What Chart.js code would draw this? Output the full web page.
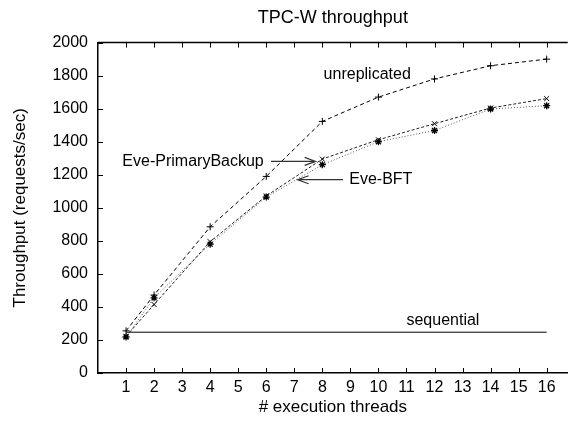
<!DOCTYPE html>
<html>
<head>
<meta charset="utf-8">
<script src="https://cdn.jsdelivr.net/npm/chart.js@4/dist/chart.umd.min.js"></script>
<style>
  html, body { margin: 0; padding: 0; background: #fff; }
</style>
</head>
<body>
<canvas id="tpcwChart" width="573" height="423"></canvas>
<script>
// TPC-W throughput data
const threads = [1, 2, 4, 6, 8, 10, 12, 14, 16];
const unreplicated = [255, 472, 885, 1190, 1523, 1670, 1780, 1860, 1900];
const primaryBackup = [222, 415, 795, 1072, 1295, 1412, 1509, 1604, 1661];
const eveBft = [218, 455, 780, 1065, 1261, 1400, 1468, 1598, 1618];
const sequentialX = [1, 16];
const sequentialY = [247, 247];
const xTicks = [1, 2, 3, 4, 5, 6, 7, 8, 9, 10, 11, 12, 13, 14, 15, 16];
const yTicks = [0, 200, 400, 600, 800, 1000, 1200, 1400, 1600, 1800, 2000];

const fontFamily = '"Liberation Sans", Arial, Helvetica, sans-serif';

function toPoints(xs, ys) {
  return xs.map((x, i) => ({ x: x, y: ys[i] }));
}

// gnuplot-like frame: top border, inward ticks, labels and arrows
const framePlugin = {
  id: 'gnuplotFrame',
  afterDatasetsDraw(chart) {
    const ctx = chart.ctx;
    const area = chart.chartArea;
    const xs = chart.scales.x;
    const ys = chart.scales.y;

    ctx.save();
    ctx.strokeStyle = '#000';
    ctx.lineWidth = 1.5;
    ctx.beginPath();
    ctx.moveTo(area.left, area.top);
    ctx.lineTo(area.right, area.top);
    ctx.stroke();

    ctx.lineWidth = 1;
    ctx.beginPath();
    xTicks.forEach((v) => {
      const px = Math.round(xs.getPixelForValue(v)) + 0.5;
      ctx.moveTo(px, area.bottom);
      ctx.lineTo(px, area.bottom - 5);
      ctx.moveTo(px, area.top);
      ctx.lineTo(px, area.top + 5);
    });
    yTicks.forEach((v) => {
      const py = Math.round(ys.getPixelForValue(v)) + 0.5;
      ctx.moveTo(area.left, py);
      ctx.lineTo(area.left + 5, py);
    });
    ctx.stroke();

    // text labels
    const notes = [
      { text: 'unreplicated', x: 9.6, y: 1806, align: 'center' },
      { text: 'sequential', x: 12.3, y: 320, align: 'center' },
      { text: 'Eve-PrimaryBackup', x: 3.39, y: 1281, align: 'center' },
      { text: 'Eve-BFT', x: 8.96, y: 1170, align: 'left' },
    ];
    ctx.fillStyle = '#000';
    ctx.font = '16px ' + fontFamily;
    ctx.textBaseline = 'middle';
    notes.forEach((n) => {
      ctx.textAlign = n.align;
      ctx.fillText(n.text, xs.getPixelForValue(n.x), ys.getPixelForValue(n.y));
    });

    // arrows
    const arrows = [
      { from: [6.17, 1281], to: [7.76, 1281] },
      { from: [8.74, 1170], to: [7.12, 1170] },
    ];
    ctx.strokeStyle = '#333';
    ctx.lineWidth = 1.2;
    arrows.forEach((a) => {
      const x1 = xs.getPixelForValue(a.from[0]);
      const y1 = ys.getPixelForValue(a.from[1]);
      const x2 = xs.getPixelForValue(a.to[0]);
      const y2 = ys.getPixelForValue(a.to[1]);
      const dir = x2 > x1 ? -1 : 1;
      ctx.beginPath();
      ctx.moveTo(x1, y1);
      ctx.lineTo(x2, y2);
      ctx.moveTo(x2 + dir * 11, y2 - 4);
      ctx.lineTo(x2, y2);
      ctx.lineTo(x2 + dir * 11, y2 + 4);
      ctx.stroke();
    });
    ctx.restore();
  },
};

new Chart(document.getElementById('tpcwChart'), {
  type: 'line',
  data: {
    datasets: [
      {
        label: 'unreplicated',
        data: toPoints(threads, unreplicated),
        borderColor: '#000',
        borderWidth: 1,
        borderDash: [4, 3],
        pointStyle: 'cross',
        pointRadius: 3.5,
        pointBorderColor: '#000',
        pointBorderWidth: 1,
      },
      {
        label: 'Eve-PrimaryBackup',
        data: toPoints(threads, primaryBackup),
        borderColor: '#222',
        borderWidth: 1,
        borderDash: [3, 2],
        pointStyle: 'crossRot',
        pointRadius: 3.5,
        pointBorderColor: '#000',
        pointBorderWidth: 1,
      },
      {
        label: 'Eve-BFT',
        data: toPoints(threads, eveBft),
        borderColor: '#555',
        borderWidth: 1,
        borderDash: [1, 2],
        pointStyle: 'star',
        pointRadius: 3.5,
        pointBorderColor: '#000',
        pointBorderWidth: 1.3,
      },
      {
        label: 'sequential',
        data: toPoints(sequentialX, sequentialY),
        borderColor: '#000',
        borderWidth: 1,
        pointRadius: 0,
      },
    ],
  },
  options: {
    responsive: false,
    animation: false,
    devicePixelRatio: 1,
    layout: { padding: 0 },
    plugins: {
      legend: { display: false },
      tooltip: { enabled: false },
      title: {
        display: true,
        text: 'TPC-W throughput',
        color: '#000',
        fullSize: false,
        font: { family: fontFamily, size: 18, weight: 'normal' },
        padding: { top: 7, bottom: 14 },
      },
    },
    scales: {
      x: {
        type: 'linear',
        min: 0,
        max: 16.75,
        afterBuildTicks: (scale) => {
          scale.ticks = xTicks.map((v) => ({ value: v }));
        },
        afterFit: (scale) => {
          scale.height = 50;
        },
        grid: { display: false, drawTicks: false },
        border: { color: '#000', width: 1.5 },
        ticks: {
          color: '#000',
          padding: 5,
          maxRotation: 0,
          autoSkip: false,
          font: { family: fontFamily, size: 16 },
          callback: (value) => String(value),
        },
        title: {
          display: true,
          text: '# execution threads',
          color: '#000',
          font: { family: fontFamily, size: 17 },
          padding: { top: 0, bottom: 5 },
        },
      },
      y: {
        min: 0,
        max: 2000,
        afterBuildTicks: (scale) => {
          scale.ticks = yTicks.map((v) => ({ value: v }));
        },
        afterFit: (scale) => {
          scale.width = 98;
        },
        grid: { display: false, drawTicks: false },
        border: { color: '#000', width: 1.5 },
        ticks: {
          color: '#000',
          padding: 10,
          font: { family: fontFamily, size: 16 },
          callback: (value) => String(value),
        },
        title: {
          display: true,
          text: 'Throughput (requests/sec)',
          color: '#000',
          font: { family: fontFamily, size: 17 },
          padding: { top: 10, bottom: 0 },
        },
      },
    },
  },
  plugins: [framePlugin],
});
</script>
</body>
</html>
